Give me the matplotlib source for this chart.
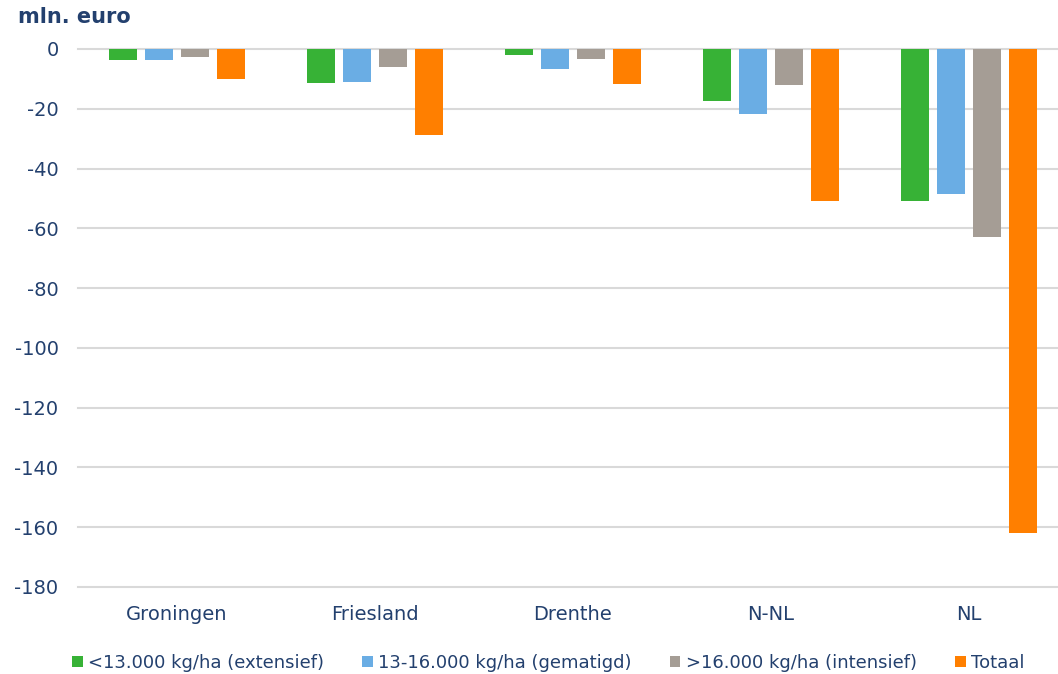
import numpy as np
import matplotlib.pyplot as plt
from matplotlib.patches import Patch

# Regio's en series (mln. euro)
regios = ['Groningen', 'Friesland', 'Drenthe', 'N-NL', 'NL']
extensief = [-3.8, -11.3, -2.0, -17.3, -50.7]
gematigd = [-3.7, -11.2, -6.6, -21.6, -48.5]
intensief = [-2.6, -6.1, -3.2, -12.0, -62.9]
totaal = [-10.2, -28.8, -11.8, -50.9, -161.9]

labels = ['<13.000 kg/ha (extensief)', '13-16.000 kg/ha (gematigd)',
          '>16.000 kg/ha (intensief)', 'Totaal']
kleuren = ['#37B236', '#6AADE4', '#A59D95', '#FF7F00']
tekstkleur = '#23406E'

plt.rcParams['font.family'] = ['DejaVu Sans']
plt.rcParams['axes.unicode_minus'] = False

fig = plt.figure(figsize=(10.58, 6.74), dpi=100)
ax = fig.add_axes([78 / 1058, 1 - 587 / 674, 1 - 78 / 1058, (587 - 49) / 674])

x = np.arange(len(regios))
pitch = 36 / 198
breedte = 28 / 198
series = [extensief, gematigd, intensief, totaal]
for i, (waarden, kleur) in enumerate(zip(series, kleuren)):
    ax.bar(x + (i - 1.5) * pitch, waarden, breedte, color=kleur, zorder=3)

ax.set_xlim(-0.5, 4.45)
ax.set_ylim(-180, 0)
ax.set_yticks(np.arange(-180, 1, 20))
ax.yaxis.grid(True, color='#D9D9D9', linewidth=1.5, zorder=0)
for gl in ax.get_ygridlines():
    gl.set_clip_on(False)
ax.set_axisbelow(True)
for s in ax.spines.values():
    s.set_visible(False)
ax.tick_params(axis='both', length=0, labelsize=14, colors=tekstkleur)
ax.tick_params(axis='y', pad=14)
ax.tick_params(axis='x', pad=13)
ax.set_xticks(x)
ax.set_xticklabels(regios)

fig.text(18 / 1058, 1 - 17 / 674, 'mln. euro', fontsize=15, fontweight='bold',
         color=tekstkleur, va='center', ha='left')

handles = [Patch(facecolor=k, edgecolor='none') for k in kleuren]
fig.legend(handles, labels, loc='center', bbox_to_anchor=(0.518, 1 - 663 / 674),
           ncol=4, frameon=False, fontsize=13, labelcolor=tekstkleur,
           handlelength=0.6, handleheight=0.6, handletextpad=0.3, columnspacing=2.1)

fig.savefig('out.png', dpi=100)
